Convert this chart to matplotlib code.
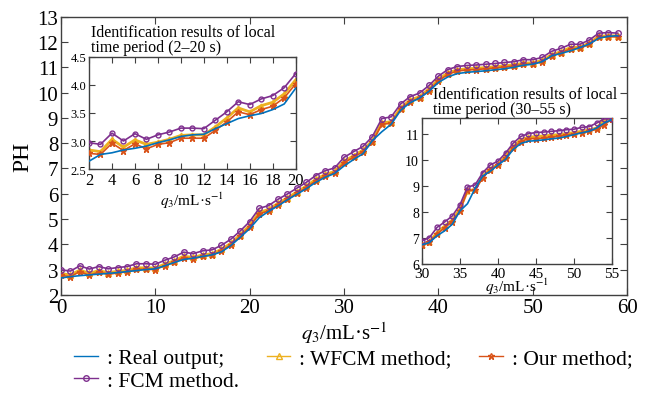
import matplotlib
matplotlib.use('Agg')
import matplotlib.pyplot as plt
import numpy as np

plt.rcParams['font.family'] = ['Liberation Serif', 'DejaVu Serif']
plt.rcParams['mathtext.fontset'] = 'stix'

# main chart data, q3 = 0..59
q3 = list(range(60))
fcm = [2.99, 2.94, 3.15, 3.02, 3.12, 3.03, 3.08, 3.12, 3.23, 3.23,
       3.21, 3.37, 3.50, 3.69, 3.63, 3.74, 3.78, 3.96, 4.20, 4.53,
       4.90, 5.42, 5.53, 5.78, 5.99, 6.22, 6.45, 6.72, 6.91, 7.02,
       7.44, 7.66, 7.87, 8.26, 8.97, 9.04, 9.55, 9.84, 9.98, 10.28,
       10.65, 10.91, 11.03, 11.07, 11.09, 11.12, 11.15, 11.19, 11.22, 11.30,
       11.30, 11.39, 11.63, 11.75, 11.91, 11.91, 12.08, 12.35, 12.37, 12.35]
wfcm = [2.84, 2.79, 2.98, 2.85, 2.96, 2.88, 2.93, 2.97, 3.07, 3.07,
        3.06, 3.22, 3.35, 3.53, 3.48, 3.58, 3.63, 3.80, 4.04, 4.38,
        4.75, 5.26, 5.38, 5.62, 5.84, 6.07, 6.30, 6.57, 6.76, 6.88,
        7.28, 7.50, 7.72, 8.10, 8.80, 8.85, 9.40, 9.70, 9.84, 10.14,
        10.52, 10.78, 10.90, 10.94, 10.96, 10.99, 11.02, 11.06, 11.10, 11.16,
        11.18, 11.27, 11.50, 11.62, 11.78, 11.80, 11.96, 12.22, 12.25, 12.24]
ours = [2.77, 2.72, 2.92, 2.77, 2.90, 2.81, 2.87, 2.91, 3.01, 3.01,
        3.00, 3.16, 3.29, 3.47, 3.42, 3.52, 3.57, 3.74, 3.98, 4.32,
        4.69, 5.20, 5.32, 5.56, 5.78, 6.01, 6.24, 6.51, 6.70, 6.82,
        7.22, 7.44, 7.66, 8.04, 8.74, 8.79, 9.34, 9.64, 9.78, 10.08,
        10.46, 10.72, 10.85, 10.89, 10.91, 10.94, 10.97, 11.01, 11.05, 11.11,
        11.13, 11.22, 11.45, 11.57, 11.73, 11.75, 11.91, 12.18, 12.21, 12.20]
real = [2.67, 2.72, 2.76, 2.79, 2.82, 2.85, 2.88, 2.92, 2.96, 3.00,
        3.03, 3.15, 3.28, 3.40, 3.45, 3.52, 3.58, 3.70, 3.95, 4.28,
        4.62, 5.05, 5.30, 5.52, 5.76, 5.98, 6.20, 6.45, 6.65, 6.80,
        7.10, 7.35, 7.58, 8.10, 8.45, 8.75, 9.30, 9.60, 9.78, 10.05,
        10.40, 10.62, 10.75, 10.80, 10.83, 10.86, 10.90, 10.94, 11.00, 11.08,
        11.12, 11.22, 11.45, 11.55, 11.65, 11.78, 11.92, 12.15, 12.22, 12.25]

# inset 1: 2-20 s
t1 = list(range(2, 21))
fcm1 = [2.97, 2.94, 3.14, 3.00, 3.13, 3.03, 3.11, 3.16, 3.23, 3.23,
        3.22, 3.37, 3.52, 3.70, 3.65, 3.75, 3.81, 3.95, 4.20]
wfcm1 = [2.84, 2.81, 3.03, 2.89, 3.02, 2.94, 2.98, 3.03, 3.10, 3.11,
         3.11, 3.25, 3.41, 3.59, 3.52, 3.63, 3.69, 3.84, 4.09]
ours1 = [2.78, 2.76, 2.96, 2.83, 2.95, 2.86, 2.94, 2.97, 3.05, 3.05,
         3.05, 3.19, 3.34, 3.52, 3.47, 3.56, 3.62, 3.77, 4.02]
real1 = [2.64, 2.76, 2.79, 2.84, 2.87, 2.91, 2.97, 3.02, 3.08, 3.11,
         3.12, 3.22, 3.31, 3.40, 3.45, 3.49, 3.56, 3.66, 3.94]

# inset 2: 30-55 s
t2 = list(range(30, 56))
fcm2 = [6.89, 7.01, 7.40, 7.61, 7.84, 8.26, 8.95, 9.03, 9.50, 9.80,
        9.94, 10.25, 10.63, 10.89, 11.00, 11.04, 11.06, 11.09, 11.11, 11.15,
        11.17, 11.24, 11.27, 11.41, 11.57, 11.57]
wfcm2 = [6.73, 6.86, 7.20, 7.45, 7.68, 8.10, 8.80, 8.86, 9.37, 9.66,
         9.82, 10.13, 10.50, 10.76, 10.86, 10.89, 10.91, 10.94, 10.96, 11.00,
         11.04, 11.09, 11.14, 11.22, 11.55, 11.57]
ours2 = [6.71, 6.83, 7.14, 7.39, 7.62, 8.03, 8.82, 8.82, 9.31, 9.62,
         9.79, 10.07, 10.45, 10.68, 10.81, 10.81, 10.83, 10.86, 10.90, 10.94,
         10.99, 11.04, 11.09, 11.17, 11.34, 11.57]
real2 = [6.73, 6.82, 7.08, 7.27, 7.52, 8.03, 8.31, 8.90, 9.37, 9.56,
         9.79, 10.01, 10.39, 10.62, 10.71, 10.73, 10.76, 10.80, 10.83, 10.89,
         10.96, 11.03, 11.09, 11.22, 11.41, 11.54]

c_real = '#0072BD'
c_wfcm = '#EDB120'
c_ours = '#D95319'
c_fcm = '#7E2F8E'
spine_c = '#404040'
xlab = r'$q_3$/mL·s$^{-1}$'


def drawSeries(ax, x, r, w, o, f, ms=4):
    hw, = ax.plot(x, w, color=c_wfcm, lw=2.0, marker='^', ms=ms,
                  mfc=c_wfcm, mec=c_wfcm, zorder=2)
    ho, = ax.plot(x, o, color=c_ours, lw=1.2, marker='*', ms=ms + 1,
                  mfc=c_ours, mec=c_ours, zorder=3)
    hf, = ax.plot(x, f, color=c_fcm, lw=1.2, marker='o', ms=ms,
                  mfc='none', mec=c_fcm, mew=1.0, zorder=4)
    hr, = ax.plot(x, r, color=c_real, lw=1.2, zorder=5)
    return hr, hw, ho, hf


def styleAx(ax, size_x, size_y):
    for s in ax.spines.values():
        s.set_color(spine_c)
        s.set_linewidth(1.0)
    ax.tick_params(direction='in', top=True, right=True, length=4,
                   color=spine_c, pad=2)
    ax.tick_params(axis='x', labelsize=size_x)
    ax.tick_params(axis='y', labelsize=size_y)


fig = plt.figure(figsize=(6.56, 4.02), dpi=100)

ax = fig.add_axes([0.093, 0.264, 0.863, 0.692])
hr, hw, ho, hf = drawSeries(ax, q3, real, wfcm, ours, fcm)
ax.set_xlim(0, 60)
ax.set_ylim(2, 13)
ax.set_xticks(np.arange(0, 61, 10))
ax.set_yticks(np.arange(2, 14, 1))
styleAx(ax, 15, 15)
ax.tick_params(length=5)
ax.set_xlabel(xlab, fontsize=15, labelpad=2)
ax.set_ylabel('PH', fontsize=17, labelpad=3)

# inset 1
ax1 = fig.add_axes([0.1357, 0.577, 0.315, 0.279])
drawSeries(ax1, t1, real1, wfcm1, ours1, fcm1, ms=3.5)
ax1.set_xlim(2, 20)
ax1.set_ylim(2.5, 4.5)
ax1.set_xticks(np.arange(2, 21, 2))
ax1.set_yticks([2.5, 3.0, 3.5, 4.0, 4.5])
ax1.set_yticklabels(['2.5', '3.0', '3.5', '4.0', '4.5'])
styleAx(ax1, 12, 9)
ax1.set_xlabel(xlab, fontsize=11, labelpad=1)
ax1.text(0.01, 1.02, 'Identification results of local\ntime period (2\u201320 s)',
         transform=ax1.transAxes, fontsize=11.5, ha='left', va='bottom',
         linespacing=0.88)

# inset 2
ax2 = fig.add_axes([0.643, 0.341, 0.290, 0.363])
drawSeries(ax2, t2, real2, wfcm2, ours2, fcm2, ms=3.5)
ax2.set_xlim(30, 55)
ax2.set_ylim(6, 11.6)
ax2.set_xticks(np.arange(30, 56, 5))
ax2.set_yticks(np.arange(6, 12, 1))
styleAx(ax2, 11, 10)
ax2.set_xlabel(xlab, fontsize=11, labelpad=-3)
ax2.text(0.06, 1.01, 'Identification results of local\ntime period (30\u201355 s)',
         transform=ax2.transAxes, fontsize=11.5, ha='left', va='bottom',
         linespacing=0.88)

# legend: order so that row 1 = Real, WFCM, Our; row 2 = FCM
handles = [hr, hf, hw, ho]
labels = [': Real output;', ': FCM method.', ': WFCM method;', ': Our method;']
leg = fig.legend(handles, labels, loc='upper left', bbox_to_anchor=(0.097, 0.158),
                 ncol=3, frameon=False, fontsize=15.5, handlelength=1.1,
                 handletextpad=0.4, columnspacing=1.3, labelspacing=0.1,
                 borderpad=0.0)
for h in leg.legend_handles:
    h.set_markerfacecolor('none')
    h.set_linewidth(1.0)

fig.savefig('out.png', dpi=100)
